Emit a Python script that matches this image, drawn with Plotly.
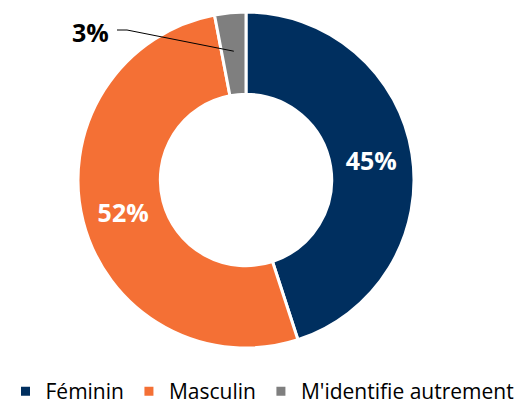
import math
import plotly.graph_objects as go

labels = ["Féminin", "Masculin", "M'identifie autrement"]
values = [45, 52, 3]
colors = ["#002F5F", "#F47035", "#7F7F7F"]
inside_text = ["45%", "52%", ""]

W, H = 525, 412
cx, cy, R = 246, 180, 168
dom_x = [(cx - R) / W, (cx + R) / W]
dom_y = [1 - (cy + R) / H, 1 - (cy - R) / H]

fig = go.Figure(go.Pie(
    labels=labels, values=values, sort=False, direction="clockwise", rotation=0,
    hole=0.51, marker=dict(colors=colors, line=dict(color="white", width=3)),
    text=inside_text, textinfo="text", textposition="inside",
    insidetextfont=dict(color="white", size=25, family="Open Sans"),
    texttemplate="<b>%{text}</b>", hoverinfo="label+percent",
    domain=dict(x=dom_x, y=dom_y), insidetextorientation="horizontal",
))

# leader line for small slice
total = sum(values)
mid = 360 - values[2] / total * 360 / 2
rmid = R * 0.77
ex = cx + rmid * math.sin(math.radians(mid))
ey = cy - rmid * math.cos(math.radians(mid))
tx, ty = 90, 32
fig.add_shape(type="path",
              path=f"M {(tx+27)/W} {1-(ty-2)/H} L {(tx+37)/W} {1-(ty-2)/H} L {ex/W} {1-ey/H}",
              xref="paper", yref="paper", line=dict(color="black", width=1))
fig.add_annotation(x=tx / W, y=1 - ty / H, xref="paper", yref="paper",
                   xanchor="center", yanchor="middle",
                   text=f"<b>{values[2]}%</b>", showarrow=False,
                   font=dict(size=25, color="black", family="Open Sans"))

fig.update_layout(
    width=W, height=H, margin=dict(l=0, r=0, t=0, b=0),
    paper_bgcolor="white", plot_bgcolor="white",
    legend=dict(orientation="h", x=0.5, xanchor="center", y=0.0, yanchor="bottom",
                font=dict(size=21, family="Open Sans", color="black"),
                itemwidth=30, tracegroupgap=0, bgcolor="rgba(0,0,0,0)"),
    showlegend=True,
)
fig.write_html("out.html", config={"displayModeBar": False},
               post_script="document.body.style.margin='0';")
